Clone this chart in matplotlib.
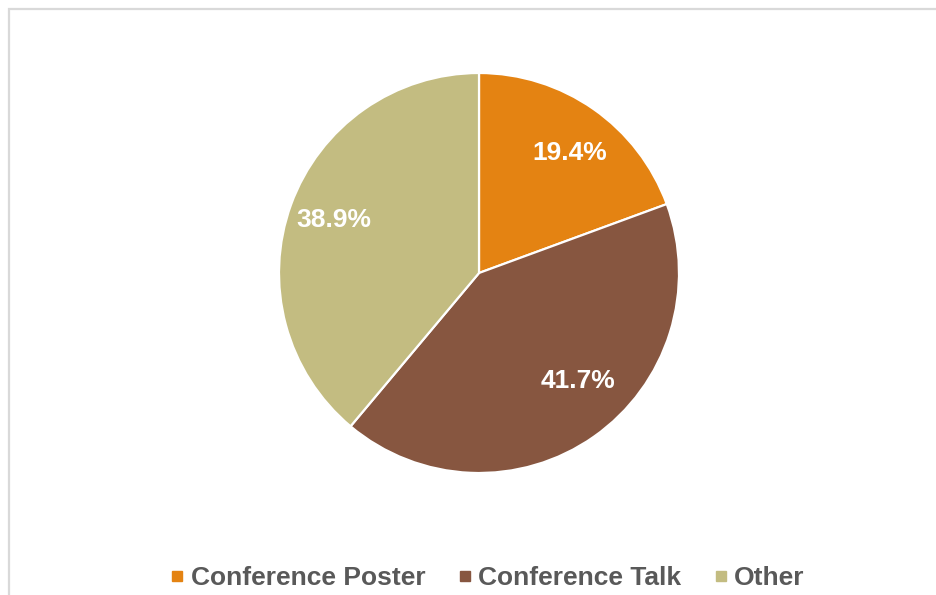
import matplotlib
matplotlib.use("Agg")
import matplotlib.pyplot as plt
from matplotlib.lines import Line2D

categories = ["Conference Poster", "Conference Talk", "Other"]
shares = [19.4, 41.7, 38.9]
colors = ["#E48312", "#875640", "#C3BC81"]

plt.rcParams["font.family"] = ["Liberation Sans", "DejaVu Sans"]

W, H = 936, 595
CX, CY, R = 479, H - 273, 200
fig = plt.figure(figsize=(W / 100, H / 100), dpi=100)
ax = fig.add_axes([0, 0, 1, 1])

# chart-area frame (continues past the right and bottom edges)
ax.plot([9, 9, W + 5], [-5, H - 9, H - 9], color="#D9D9D9", lw=1.6,
        solid_joinstyle="miter", clip_on=False)

wedges, texts, autotexts = ax.pie(
    shares, colors=colors, startangle=90, counterclock=False,
    center=(CX, CY), radius=R, frame=True,
    autopct="%.1f%%", pctdistance=0.75,
    wedgeprops=dict(edgecolor="white", linewidth=1.6),
    textprops=dict(color="white", fontsize=19, fontweight="bold"))

# data labels sit at these offsets from the pie centre (in radii)
label_offsets = [(0.455, 0.60), (0.495, -0.54), (-0.725, 0.265)]
for t, (dx, dy) in zip(autotexts, label_offsets):
    t.set_position((CX + dx * R, CY + dy * R))

ax.set_xlim(0, W)
ax.set_ylim(0, H)
ax.set_aspect("equal")
ax.axis("off")

handles = [Line2D([], [], ls="none", marker="s", markersize=6.5,
                  markerfacecolor=c, markeredgecolor=c) for c in colors]
fig.legend(handles, categories, loc="center", ncol=3,
           bbox_to_anchor=(487 / W, 1 - 578 / H), frameon=False,
           prop=dict(size=19, weight="bold"), labelcolor="#595959",
           handlelength=0.6, handletextpad=0.2, columnspacing=1.2,
           borderaxespad=0)

fig.savefig("out.png", dpi=100, facecolor="white")
